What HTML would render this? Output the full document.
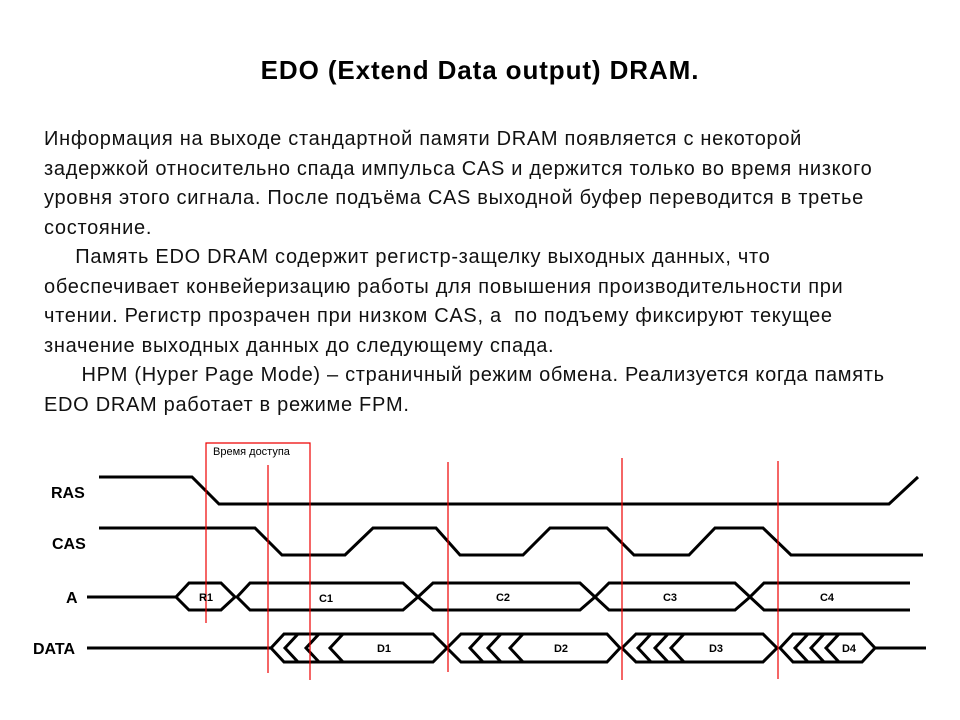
<!DOCTYPE html>
<html><head><meta charset="utf-8"><style>
body{margin:0;width:960px;height:720px;background:#fff;overflow:hidden;position:relative;font-family:"Liberation Sans",sans-serif}
h1{position:absolute;top:55px;left:0;width:960px;text-align:center;font-size:26px;letter-spacing:0.9px;margin:0;font-weight:bold}
.t{position:absolute;left:44px;top:125px;font-size:20px;letter-spacing:0.7px;line-height:29.5px;white-space:pre;color:#111}
svg{position:absolute;left:0;top:0}
</style></head><body>
<h1>EDO (Extend Data output) DRAM.</h1>
<div class="t">Информация на выходе стандартной памяти DRAM появляется с некоторой
задержкой относительно спада импульса CAS и держится только во время низкого
уровня этого сигнала. После подъёма CAS выходной буфер переводится в третье
состояние.
     Память EDO DRAM содержит регистр-защелку выходных данных, что
обеспечивает конвейеризацию работы для повышения производительности при
чтении. Регистр прозрачен при низком CAS, а  по подъему фиксируют текущее
значение выходных данных до следующему спада.
      HPM (Hyper Page Mode) – страничный режим обмена. Реализуется когда память
EDO DRAM работает в режиме FPM.</div>
<svg width="960" height="720" viewBox="0 0 960 720">
<g fill="none" stroke="#000" stroke-width="3">
<polyline points="99,477 192,477 219,504 889,504 918,477"/>
<polyline points="99,528 255,528 282,555 345,555 373,528 436,528 460,555 523,555 550,528 607,528 634,555 689,555 715,528 763,528 791,555 923,555"/>
<line x1="87" y1="597" x2="176" y2="597"/>
<polygon points="176,597 189,583 221,583 235,597 221,610 189,610"/>
<polygon points="237,597 250,583 403,583 418,597 403,610 250,610"/>
<polygon points="418,597 433,583 580,583 595,597 580,610 433,610"/>
<polygon points="595,597 609,583 735,583 750,597 735,610 609,610"/>
<polyline points="910,583 764,583 750,597 764,610 910,610"/>
<line x1="87" y1="648" x2="271" y2="648"/>
<polygon points="271,648 284,634 433,634 447,648 433,662 284,662"/>
<polyline points="298,634 285,648 298,662"/><polyline points="319,634 306,648 319,662"/><polyline points="343,634 330,648 343,662"/>
<polygon points="447,648 461,634 607,634 620,648 607,662 461,662"/>
<polyline points="483,634 470,648 483,662"/><polyline points="501,634 488,648 501,662"/><polyline points="523,634 510,648 523,662"/>
<polygon points="622,648 636,634 763,634 777,648 763,662 636,662"/>
<polyline points="651,634 638,648 651,662"/><polyline points="668,634 655,648 668,662"/><polyline points="684,634 671,648 684,662"/>
<polygon points="780,648 793,634 862,634 875,648 862,662 793,662"/>
<polyline points="808,634 795,648 808,662"/><polyline points="824,634 811,648 824,662"/><polyline points="839,634 826,648 839,662"/>
<line x1="875" y1="648" x2="926" y2="648"/>
</g>
<g stroke="#e00" stroke-width="1.2" fill="none">
<polyline points="206,623 206,443 310,443 310,680"/>
<line x1="268" y1="465" x2="268" y2="673"/>
<line x1="448" y1="462" x2="448" y2="672"/>
<line x1="622" y1="458" x2="622" y2="680"/>
<line x1="778" y1="461" x2="778" y2="679"/>
</g>
<g font-family="Liberation Sans,sans-serif" font-weight="bold" font-size="16">
<text x="51" y="498">RAS</text><text x="52" y="549">CAS</text><text x="66" y="603">A</text><text x="33" y="654">DATA</text>
</g>
<g font-family="Liberation Sans,sans-serif" font-weight="bold" font-size="11" text-anchor="middle">
<text x="206" y="601">R1</text><text x="326" y="602">C1</text><text x="503" y="601">C2</text><text x="670" y="601">C3</text><text x="827" y="601">C4</text>
<text x="384" y="652">D1</text><text x="561" y="652">D2</text><text x="716" y="652">D3</text><text x="849" y="652">D4</text>
</g>
<text x="213" y="455" font-family="Liberation Sans,sans-serif" font-size="11">Время доступа</text>
</svg>
</body></html>
